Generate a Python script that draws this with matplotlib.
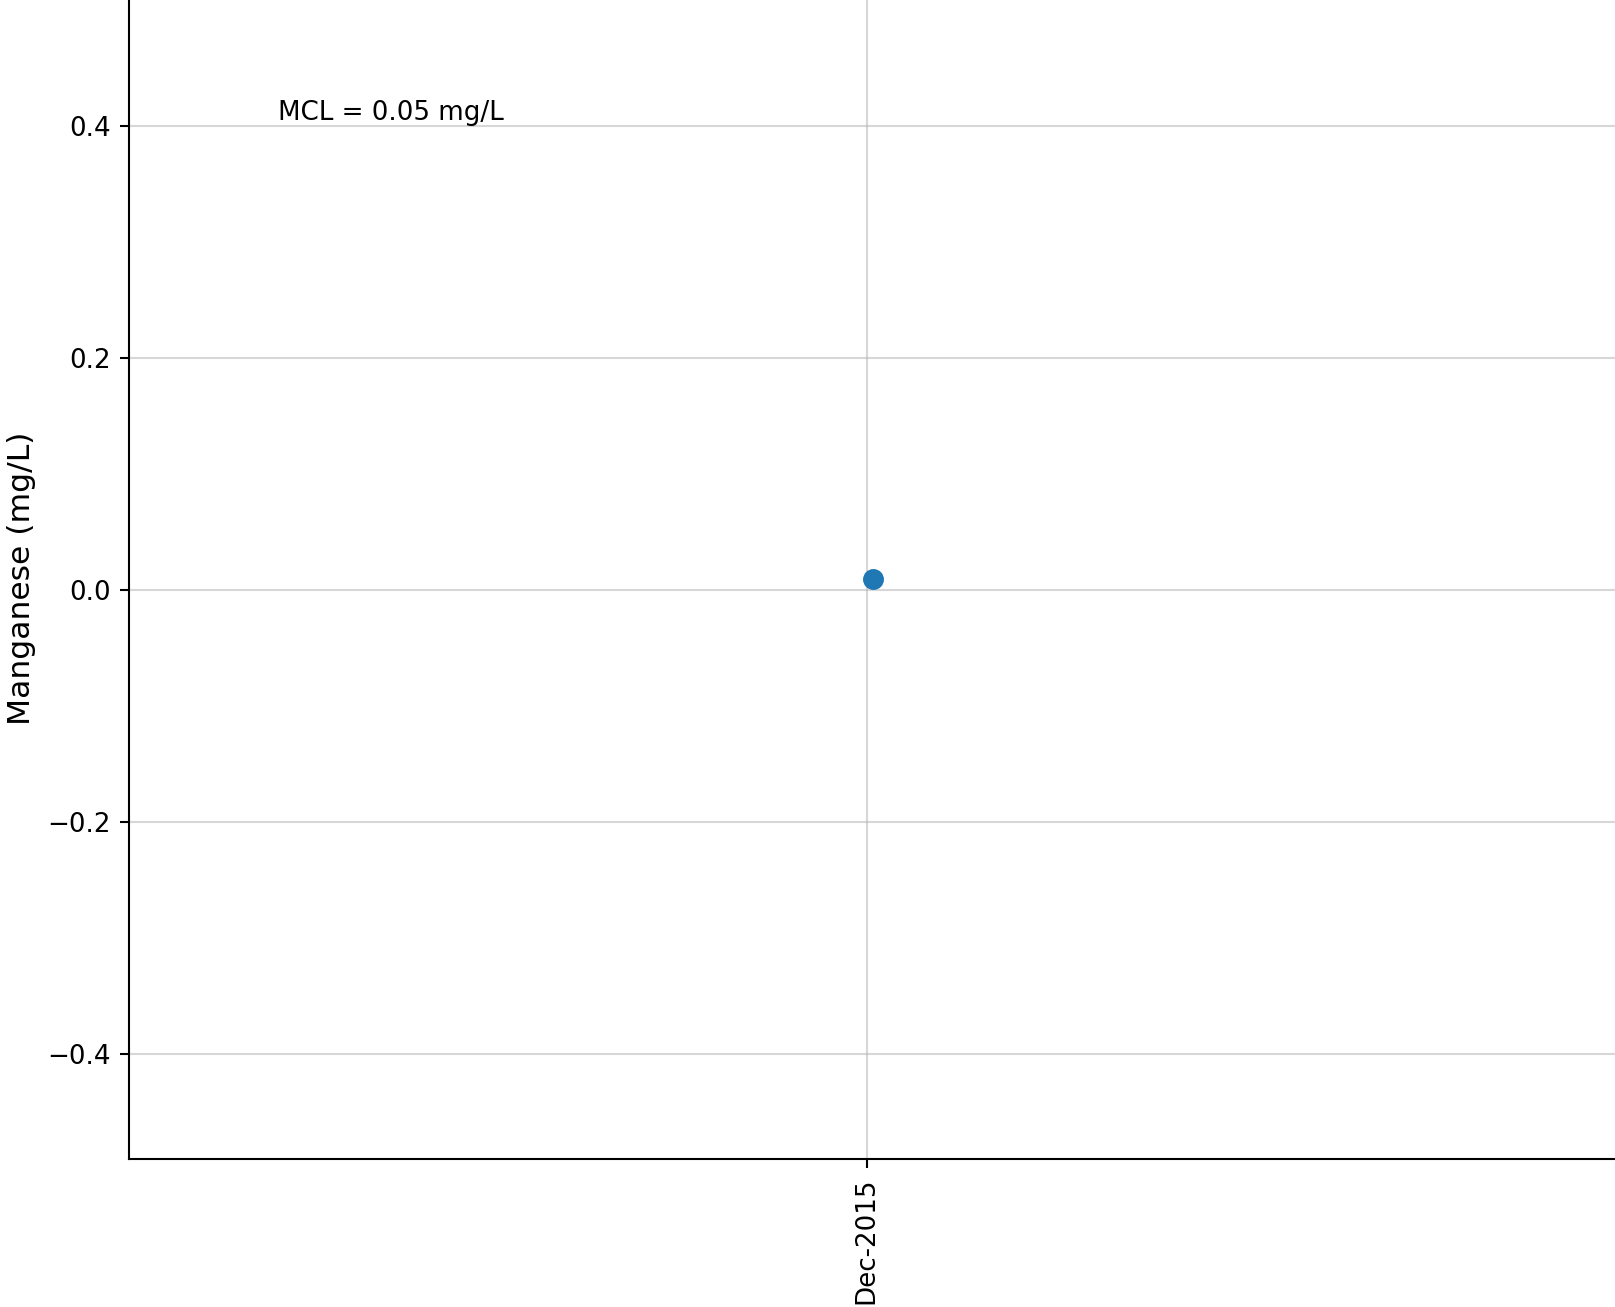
import matplotlib
matplotlib.use("Agg")
import matplotlib.pyplot as plt
import pandas as pd

# sample data
sample_dates = pd.to_datetime(["2015-12-07"])
manganese = [0.01]
tick_dates = pd.to_datetime(["2015-12-01"])
tick_labels = ["Dec-2015"]
mcl_text = "MCL = 0.05 mg/L"

DPI = 188
fig = plt.figure(figsize=(1615 / DPI, 1307 / DPI), dpi=DPI)
ax = fig.add_axes([0.0797, 0.1134, 0.9215, 0.8875])

ax.plot(sample_dates, manganese, marker="o", linestyle="none", markersize=7, color="#1f77b4")

center = sample_dates[0]
ax.set_xlim(center - pd.Timedelta(days=730), center + pd.Timedelta(days=730))
ax.set_ylim(-0.49, 0.51)
ax.set_xticks(tick_dates)
ax.set_xticklabels(tick_labels, rotation=90)
ax.set_yticks([-0.4, -0.2, 0.0, 0.2, 0.4])

ax.set_ylabel("Manganese (mg/L)", fontsize=12)
ax.grid(True, alpha=0.5)
ax.set_axisbelow(True)

# MCL note
ax.text(0.1, 0.4, mcl_text, transform=ax.get_yaxis_transform(), ha="left", va="bottom", fontsize=10)

fig.savefig("out.png", dpi=DPI)
